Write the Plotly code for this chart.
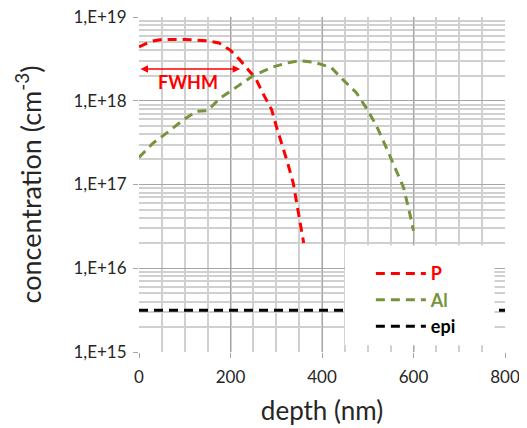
import plotly.graph_objects as go
import numpy as np

# ---- data ----
p_depth = [0, 25, 50, 100, 150, 175, 200, 220, 240, 255, 270, 290, 300, 312, 325, 337, 348, 360]
p_conc = [4.4e18, 5.1e18, 5.4e18, 5.4e18, 5.2e18, 4.9e18, 4.0e18, 3.1e18, 2.3e18, 1.85e18,
          1.25e18, 7.8e17, 5.0e17, 3.1e17, 1.8e17, 1.05e17, 5.0e16, 2.0e16]

al_depth = [0, 30, 60, 95, 125, 150, 175, 200, 225, 250, 290, 320, 350, 380, 400, 420,
            445, 475, 500, 520, 540, 560, 578, 590, 600]
al_conc = [2.1e17, 3.1e17, 4.1e17, 5.8e17, 7.5e17, 7.6e17, 1.05e18, 1.3e18, 1.6e18, 2.0e18,
           2.5e18, 2.8e18, 3.0e18, 2.9e18, 2.7e18, 2.5e18, 1.8e18, 1.25e18, 7.7e17, 4.9e17,
           2.8e17, 1.6e17, 9.3e16, 5.0e16, 2.8e16]

epi_depth = [0, 800]
epi_conc = [3.16e15, 3.16e15]

y_tickvals = [1e15, 1e16, 1e17, 1e18, 1e19]
y_ticktext = ["1,E+15", "1,E+16", "1,E+17", "1,E+18", "1,E+19"]
x_tickvals = [0, 200, 400, 600, 800]

fwhm_start, fwhm_end, fwhm_level = 0, 221, 2.4e18

RED = "#FF0000"
GREEN = "#77933C"
FONT = "Lato"
TXT = "#262626"

OFF = 8  # page body margin
W, H = 527 - OFF, 428 - OFF
L, R, T, B = 138.5 - OFF, 21.5, 17 - OFF, 76.3
PW, PH = W - L - R, H - T - B
# helpers: convert target window pixels to paper coords
px = lambda xp: (xp - OFF - L) / PW
py = lambda yp: (H - B - (yp - OFF)) / PH

fig = go.Figure()
fig.add_trace(go.Scatter(x=p_depth, y=p_conc, mode="lines",
                         name="<b><span style='color:#FF0000'>P</span></b>",
                         line=dict(color=RED, width=3, dash="9px,6px")))
fig.add_trace(go.Scatter(x=al_depth, y=al_conc, mode="lines",
                         name="<b><span style='color:#77933C'>Al</span></b>",
                         line=dict(color=GREEN, width=3, dash="9px,6px")))
fig.add_trace(go.Scatter(x=epi_depth, y=epi_conc, mode="lines",
                         name="<b><span style='color:#000000'>epi</span></b>",
                         line=dict(color="black", width=3, dash="9px,6px")))

minor_y = [m * 10 ** e for e in range(15, 19) for m in range(2, 10)]

fig.update_layout(
    width=W, height=H,
    margin=dict(l=L, r=R, t=T, b=B, autoexpand=False),
    paper_bgcolor="white", plot_bgcolor="white",
    font=dict(family=FONT, color=TXT),
    showlegend=True,
    legend=dict(x=px(371), y=py(255), xanchor="left", yanchor="top",
                bgcolor="rgba(0,0,0,0)", font=dict(size=18, family=FONT),
                itemwidth=50, tracegroupgap=0),
    xaxis=dict(range=[0, 800], tickvals=x_tickvals, showgrid=True, automargin=False,
               gridcolor="#a6a6a6", gridwidth=1,
               minor=dict(dtick=50, showgrid=True, gridcolor="#d0d0d0", gridwidth=1.5),
               ticks="outside", ticklen=5, tickcolor="#a6a6a6",
               tickfont=dict(size=17, family=FONT, color=TXT),
               ticklabelstandoff=5, ticklabeloverflow="allow",
               zeroline=False, showline=False,
               title=dict(text="depth (nm)", font=dict(size=26, family=FONT, color=TXT),
                          standoff=15)),
    yaxis=dict(type="log", range=[15, 19], tickvals=y_tickvals, ticktext=y_ticktext,
               showgrid=True, gridcolor="#a6a6a6", gridwidth=1, automargin=False,
               minor=dict(tickvals=minor_y, showgrid=True, gridcolor="#d0d0d0", gridwidth=1.5),
               ticks="outside", ticklen=5, tickcolor="#a6a6a6",
               tickfont=dict(size=17, family=FONT, color=TXT),
               ticklabelstandoff=3, ticklabeloverflow="allow",
               zeroline=False, showline=False,
               title=dict(text="concentration (cm<sup>-3</sup>)",
                          font=dict(size=27, family=FONT, color=TXT), standoff=24)),
)

# white legend panel
fig.add_shape(type="rect", xref="paper", yref="paper",
              x0=px(345), x1=px(495), y0=py(345), y1=py(245),
              fillcolor="white", line=dict(width=0), layer="above")

# FWHM arrow
fig.add_annotation(x=fwhm_end, y=np.log10(fwhm_level), ax=fwhm_start, ay=np.log10(fwhm_level),
                   xref="x", yref="y", axref="x", ayref="y", text="",
                   showarrow=True, arrowhead=2, arrowside="end+start", arrowsize=1,
                   arrowwidth=1.5, arrowcolor=RED, standoff=0, startstandoff=0)
fig.add_annotation(x=108, y=18.223, xref="x", yref="y", text="<b>FWHM</b>",
                   showarrow=False, font=dict(size=18, color=RED, family=FONT))

fig.write_html("out.html")
